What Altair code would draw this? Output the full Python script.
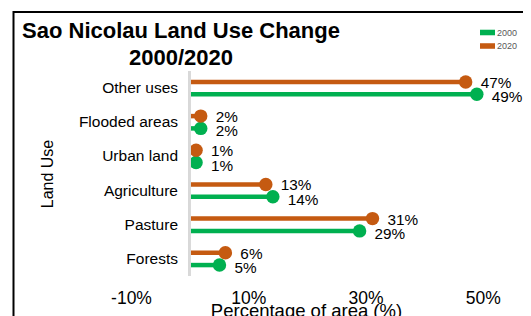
import altair as alt
import pandas as pd

categories = ["Other uses", "Flooded areas", "Urban land", "Agriculture", "Pasture", "Forests"]
values_2000 = [49.0, 1.9, 1.1, 14.2, 29.0, 5.1]
values_2020 = [47.1, 1.9, 1.1, 13.0, 31.2, 6.1]
years = ["2000", "2020"]
year_colors = ["#00b050", "#c55a11"]
x_ticks = [-10, 10, 30, 50]

rows = []
for c, v0, v1 in zip(categories, values_2000, values_2020):
    rows.append({"cat": c, "year": "2000", "value": v0})
    rows.append({"cat": c, "year": "2020", "value": v1})
df = pd.DataFrame(rows)
df["label"] = df["value"].round().astype(int).astype(str) + "%"

FONT = "Liberation Sans"

color = alt.Color(
    "year:N",
    scale=alt.Scale(domain=years, range=year_colors),
    legend=alt.Legend(
        orient="none", legendX=349, legendY=-46, title=None,
        symbolType="M-1,-0.37H1V0.37H-1Z", symbolSize=225,
        symbolStrokeWidth=0, labelFontSize=9, labelColor="#595959",
        labelFont=FONT, rowPadding=0.5, labelOffset=2, padding=0,
    ),
)

x_enc = alt.X(
    "value:Q",
    scale=alt.Scale(domain=[-10, 55], nice=False, zero=False),
    axis=alt.Axis(
        values=x_ticks, labelExpr="datum.value + '%'", grid=False,
        domain=False, ticks=False, tickSize=0, labelPadding=13, labelFlush=False,
        labelFontSize=17.5, labelColor="black", labelFont=FONT,
        title="Percentage of area (%)", titleFontSize=18.5, titleFont=FONT,
        titleFontWeight="normal", titleColor="black",
        titleX=175, titleY=40, titleBaseline="alphabetic", titleAlign="center",
    ),
)
y_enc = alt.Y(
    "cat:N", sort=categories,
    scale=alt.Scale(paddingInner=0.28, paddingOuter=0.14),
    axis=alt.Axis(
        domain=False, ticks=False, tickSize=0, labelPadding=5, offset=-51.5,
        labelFontSize=15.5, labelColor="black", labelFont=FONT,
        title="Land Use", titleFontSize=16, titleFont=FONT,
        titleFontWeight="normal", titleColor="black",
        titleX=-135, titleY=102.5, titleBaseline="middle", titleAngle=-90,
    ),
)
yoff = alt.YOffset("year:N", sort=["2020", "2000"],
                   scale=alt.Scale(paddingInner=0, paddingOuter=0))

base = alt.Chart(df).encode(y=y_enc, yOffset=yoff)

frame = alt.Chart(pd.DataFrame({"f": [0]})).mark_rect(
    fillOpacity=0, stroke="black", strokeWidth=2
).encode(x=alt.value(-117.5), x2=alt.value(520), y=alt.value(-59), y2=alt.value(400))

bars = base.mark_bar(height=4.5).encode(x=x_enc, x2=alt.datum(0), color=color)
dots = base.mark_circle(size=180, opacity=1).encode(x=x_enc, color=color)
labels_2020 = base.transform_filter(alt.datum.year == "2020").mark_text(
    align="left", dx=15, dy=1, fontSize=15.3, font=FONT, color="black"
).encode(x=x_enc, text="label:N")
labels_2000 = base.transform_filter(alt.datum.year == "2000").mark_text(
    align="left", dx=15, dy=3, fontSize=15.3, font=FONT, color="black"
).encode(x=x_enc, text="label:N")
zero = alt.Chart(df).mark_rule(color="#d9d9d9", strokeWidth=2).encode(x=alt.datum(0))

chart = alt.layer(frame, bars, dots, zero, labels_2020, labels_2000).properties(
    width=381, height=205,
    title=alt.TitleParams(
        ["Sao Nicolau Land Use Change", "2000/2020"], anchor="start", align="center",
        frame="group", dx=50, fontSize=22, fontWeight="bold", font=FONT,
        lineHeight=27, offset=-76, baseline="alphabetic", color="black",
    ),
    autosize=alt.AutoSizeParams(type="none"),
    padding={"left": 123, "top": 63, "right": 11, "bottom": 40},
).configure_view(stroke=None)

chart.save("out.html", embed_options={"renderer": "svg", "actions": False})
